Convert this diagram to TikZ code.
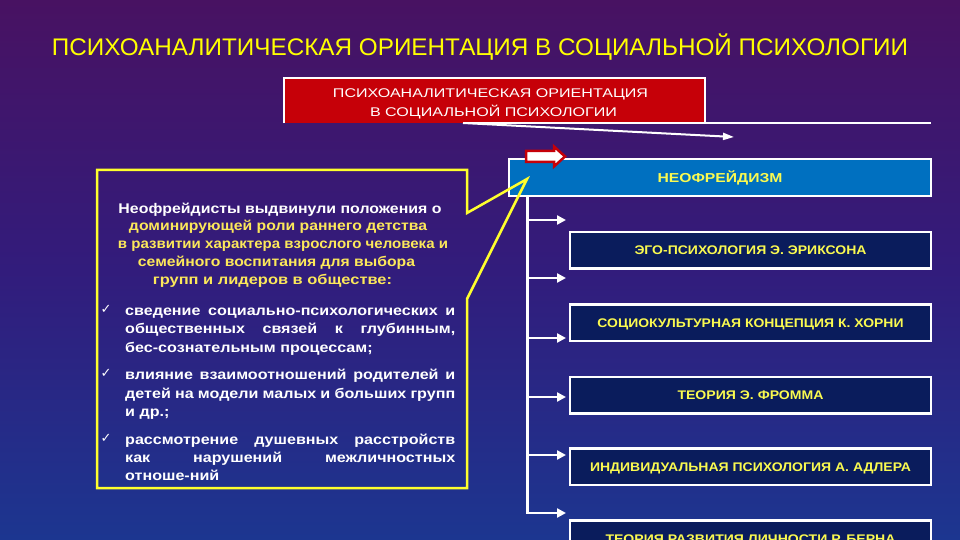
\documentclass[tikz,border=0pt]{standalone}
\usepackage{fontspec}
\usepackage{graphicx}
\setmainfont{Liberation Sans}
\newfontfamily\symfont{DejaVu Sans}
\usetikzlibrary{arrows.meta}
\definecolor{bgtop}{RGB}{72,18,98}
\definecolor{bgmid}{RGB}{50,28,124}
\definecolor{bgbot}{RGB}{28,54,144}
\definecolor{ttlyellow}{RGB}{255,255,0}
\definecolor{txtyellow}{RGB}{252,232,90}
\definecolor{boxyellow}{RGB}{250,250,80}
\definecolor{boxred}{RGB}{198,0,8}
\definecolor{boxblue}{RGB}{0,112,192}
\definecolor{boxnavy}{RGB}{10,28,92}
\definecolor{callyellow}{RGB}{255,255,45}
\newcommand\fitw[2]{\resizebox{#1}{\height}{#2}}
\newcommand\wide[1]{\scalebox{1.15}[1]{#1}}
\newcommand\jline[1]{\scalebox{1.15}[1]{\makebox[287pt][s]{#1}}}
\begin{document}
\begin{tikzpicture}[x=1pt,y=-1pt,
  redbox/.style={fill=boxred, draw=none, minimum width=420pt, minimum height=45pt, inner sep=0pt},
  neobox/.style={fill=boxblue, draw=white, line width=2.5pt, minimum width=422pt, minimum height=37pt, inner sep=0pt,
    text=boxyellow, font=\fontsize{13}{13}\selectfont\bfseries, text height=9.3pt, text depth=0pt},
  navybox/.style={fill=boxnavy, draw=white, line width=2.5pt, minimum width=361pt, minimum height=36.5pt, inner sep=0pt,
    text=boxyellow, font=\fontsize{12.5}{12.5}\selectfont\bfseries, text height=9pt, text depth=0pt},
  whiteline/.style={draw=white, line width=2pt},
  whitearrow/.style={draw=white, line width=2pt, -{Triangle[length=11pt,width=7pt]}},
  connector/.style={draw=white, line width=2.6pt, -{Triangle[length=9pt,width=9pt]}},
  callout/.style={draw=callyellow, line width=2.5pt, line join=miter},
  ttl/.style={anchor=base, inner sep=0pt, text=ttlyellow, font=\fontsize{24}{24}\selectfont},
  redtext/.style={anchor=base, inner sep=0pt, text=white, font=\fontsize{12.6}{12.6}\selectfont},
  introtext/.style={anchor=base, inner sep=0pt, font=\fontsize{14}{14}\selectfont\bfseries},
  bultext/.style={anchor=base west, inner sep=0pt, text=white, font=\fontsize{14}{14}\selectfont\bfseries},
  chk/.style={anchor=base, inner sep=0pt, text=white, font=\symfont\fontsize{13}{13}\selectfont}
]
\useasboundingbox (0,0) rectangle (960,540);
\clip (0,0) rectangle (960,540);
\shade[top color=bgtop, bottom color=bgbot, middle color=bgmid] (0,0) rectangle (960,540);

% title
\node[ttl] (title) at (480,56) {\fitw{856pt}{ПСИХОАНАЛИТИЧЕСКАЯ ОРИЕНТАЦИЯ В СОЦИАЛЬНОЙ ПСИХОЛОГИИ}};

% red box
\node[redbox] (rbox) at (495,100.5) {};
\draw[whiteline] ([xshift=-1pt]rbox.south west) -- ([xshift=-1pt]rbox.north west) -- (rbox.north east) -- (rbox.south east);
\node[redtext] (rt1) at (490.5,97.3) {\fitw{315pt}{ПСИХОАНАЛИТИЧЕСКАЯ ОРИЕНТАЦИЯ}};
\node[redtext] (rt2) at (493.5,116.3) {\fitw{247pt}{В СОЦИАЛЬНОЙ ПСИХОЛОГИИ}};
\coordinate (r0) at (463,123);
\coordinate (r1) at (931,123);
\coordinate (rtip) at (734,137);
\draw[whiteline] (r0) -- (r1);
\draw[whitearrow] (r0) -- (rtip);

% neofreudism box
\node[neobox] (neo) at (720,177.5) {\fitw{125pt}{НЕОФРЕЙДИЗМ}};
\draw[draw=boxred, fill=white, line width=2.5pt, line join=miter]
  (526,151) -- (554,151) -- (554,146.5) -- (565,156.5) -- (554,166.5) -- (554,162) -- (526,162) -- cycle;

% children
\node[navybox] (c1) at (750.5,250) {\fitw{232pt}{ЭГО-ПСИХОЛОГИЯ Э. ЭРИКСОНА}};
\node[navybox] (c2) at (750.5,322.5) {\fitw{306pt}{СОЦИОКУЛЬТУРНАЯ КОНЦЕПЦИЯ К. ХОРНИ}};
\node[navybox] (c3) at (750.5,395) {\fitw{146pt}{ТЕОРИЯ Э. ФРОММА}};
\node[navybox] (c4) at (750.5,466.5) {\fitw{321pt}{ИНДИВИДУАЛЬНАЯ ПСИХОЛОГИЯ А. АДЛЕРА}};
\node[navybox] (c5) at (750.5,538.5) {\fitw{290pt}{ТЕОРИЯ РАЗВИТИЯ ЛИЧНОСТИ Р. БЕРНА}};

% trunk and arrows
\coordinate (t0) at ([xshift=20pt]neo.south west);
\coordinate (e6) at (566,513);
\draw[connector] (t0) |- (e6);
\foreach \yy/\n in {220/1,278/2,338/3,397/4,455/5}{
  \coordinate (s\n) at (529,\yy);
  \coordinate (e\n) at (566,\yy);
  \draw[connector] (s\n) -- (e\n);
}

% callout box
\coordinate (ctip) at (527,179);
\draw[callout] (97,170) -- (467,170) -- (467,213) -- (ctip) -- (467,299) -- (467,488) -- (97,488) -- cycle;

% intro text
\node[introtext, text=white] (i1) at (280,213) {\fitw{323pt}{Неофрейдисты выдвинули положения о}};
\node[introtext, text=txtyellow] (i2) at (278,230.8) {\fitw{298pt}{доминирующей роли раннего детства}};
\node[introtext, text=txtyellow] (i3) at (283,248.6) {\fitw{330pt}{в развитии характера взрослого человека и}};
\node[introtext, text=txtyellow] (i4) at (276.5,266.4) {\fitw{277pt}{семейного воспитания для выбора}};
\node[introtext, text=txtyellow] (i5) at (272.5,284.2) {\fitw{239pt}{групп и лидеров в обществе:}};

% bullets
\node[chk] (k1) at (106,313) {✓};
\node[chk] (k2) at (106,377) {✓};
\node[chk] (k3) at (106,442) {✓};
\node[bultext] (b11) at (125,315) {\jline{сведение социально-психологических и}};
\node[bultext] (b12) at (125,333.5) {\jline{общественных связей к глубинным,}};
\node[bultext] (b13) at (125,352) {\wide{бес-сознательным процессам;}};
\node[bultext] (b21) at (125,379) {\jline{влияние взаимоотношений родителей и}};
\node[bultext] (b22) at (125,398) {\jline{детей на модели малых и больших групп}};
\node[bultext] (b23) at (125,416) {\wide{и др.;}};
\node[bultext] (b31) at (125,444) {\jline{рассмотрение душевных расстройств}};
\node[bultext] (b32) at (125,462) {\jline{как нарушений межличностных}};
\node[bultext] (b33) at (125,480.5) {\wide{отноше-ний}};
\end{tikzpicture}
\end{document}
